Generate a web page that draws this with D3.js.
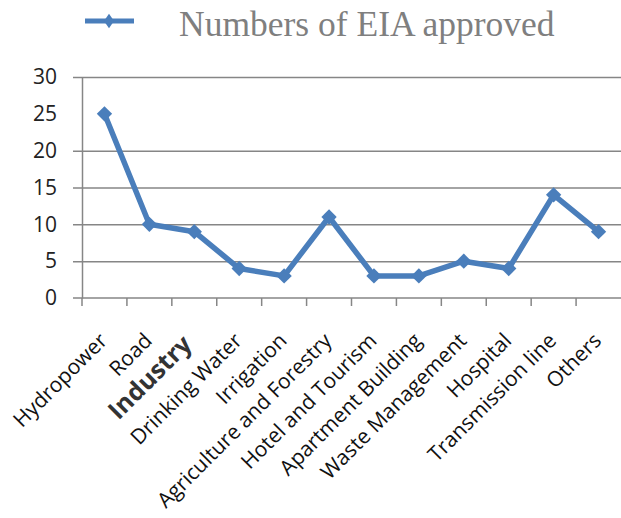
<!DOCTYPE html>
<html>
<head>
<meta charset="utf-8">
<script src="https://cdn.jsdelivr.net/npm/d3@7"></script>
<style>
  body { margin: 0; background: #fff; }
  svg { display: block; }
</style>
</head>
<body>
<div id="chart"></div>
<script>
// categories and values
var categories = ["Hydropower", "Road", "Industry", "Drinking Water", "Irrigation",
  "Agriculture and Forestry", "Hotel and Tourism", "Apartment Building",
  "Waste Management", "Hospital", "Transmission line", "Others"];
var eiaApproved = [25, 10, 9, 4, 3, 11, 3, 3, 5, 4, 14, 9];
var yTicks = [0, 5, 10, 15, 20, 25, 30];
var gridTicks = [5, 10, 15, 20, 30]; // the 25 line is not drawn in the source
var seriesName = "Numbers of EIA approved";

var svgWidth = 621;
var svgHeight = 518;
var blue = "#4a7ebb";
var axisColor = "#868686";

var svg = d3.select("#chart")
  .append("svg")
  .attr("width", svgWidth)
  .attr("height", svgHeight);

// scales
var x = d3.scaleBand()
  .domain(categories)
  .range([82, 621]);

var y = d3.scaleLinear()
  .domain([0, 30])
  .range([298, 77]);

// gridlines
svg.append("g")
  .attr("transform", "translate(82,0)")
  .call(d3.axisLeft(y).tickValues(gridTicks).tickSize(-539).tickFormat(""))
  .call(g => g.select(".domain").remove())
  .call(g => g.selectAll("line").attr("stroke", axisColor).attr("stroke-width", 1.5)
    .attr("x1", -9));

// y axis
var yAxis = svg.append("g")
  .attr("transform", "translate(82,0)")
  .call(d3.axisLeft(y).tickValues(yTicks).tickSize(0).tickPadding(25));
yAxis.select(".domain").attr("stroke", axisColor).attr("stroke-width", 1.5);
yAxis.selectAll("text")
  .attr("font-family", "Open Sans")
  .attr("font-size", 21)
  .attr("fill", "#222");

// x axis baseline
svg.append("line")
  .attr("x1", 73).attr("x2", 621)
  .attr("y1", y(0)).attr("y2", y(0))
  .attr("stroke", axisColor).attr("stroke-width", 1.5);

// tick marks between categories
svg.append("g").selectAll("line")
  .data(categories)
  .enter()
  .append("line")
  .attr("x1", d => x(d)).attr("x2", d => x(d))
  .attr("y1", y(0)).attr("y2", y(0) + 8)
  .attr("stroke", axisColor).attr("stroke-width", 1.5);

// category labels
svg.append("g").selectAll("text")
  .data(categories)
  .enter()
  .append("text")
  .attr("transform", function(d) {
    var cx = x(d) + x.bandwidth() / 2;
    if (d === "Industry") return "translate(" + (cx - 1) + ",346) rotate(-45)";
    return "translate(" + (cx + 4) + ",342) rotate(-45)";
  })
  .attr("text-anchor", "end")
  .attr("font-family", "Open Sans")
  .attr("font-size", d => d === "Industry" ? 25 : 21)
  .attr("font-weight", d => d === "Industry" ? "bold" : "normal")
  .attr("fill", d => d === "Industry" ? "#333" : "#111")
  .text(d => d);

// line
var line = d3.line()
  .x((d, i) => x(categories[i]) + x.bandwidth() / 2)
  .y(d => y(d));

svg.append("path")
  .datum(eiaApproved)
  .attr("d", line)
  .attr("fill", "none")
  .attr("stroke", blue)
  .attr("stroke-width", 5.5)
  .attr("stroke-linejoin", "round");

// diamond markers
var diamond = d3.symbol().type(d3.symbolDiamond2).size(150);
svg.append("g").selectAll("path")
  .data(eiaApproved)
  .enter()
  .append("path")
  .attr("d", diamond)
  .attr("transform", (d, i) => "translate(" + (x(categories[i]) + x.bandwidth() / 2) + "," + y(d) + ")")
  .attr("fill", blue);

// legend
var legend = svg.append("g");
legend.append("line")
  .attr("x1", 85).attr("x2", 134)
  .attr("y1", 21).attr("y2", 21)
  .attr("stroke", blue).attr("stroke-width", 5);
legend.append("path")
  .attr("d", d3.symbol().type(d3.symbolDiamond2).size(90))
  .attr("transform", "translate(109,21) scale(0.85,1.2)")
  .attr("fill", blue);
legend.append("text")
  .attr("x", 179)
  .attr("y", 36)
  .attr("font-family", "Liberation Serif")
  .attr("font-size", 35.5)
  .attr("fill", "#7f7f7f")
  .text(seriesName);
</script>
</body>
</html>
